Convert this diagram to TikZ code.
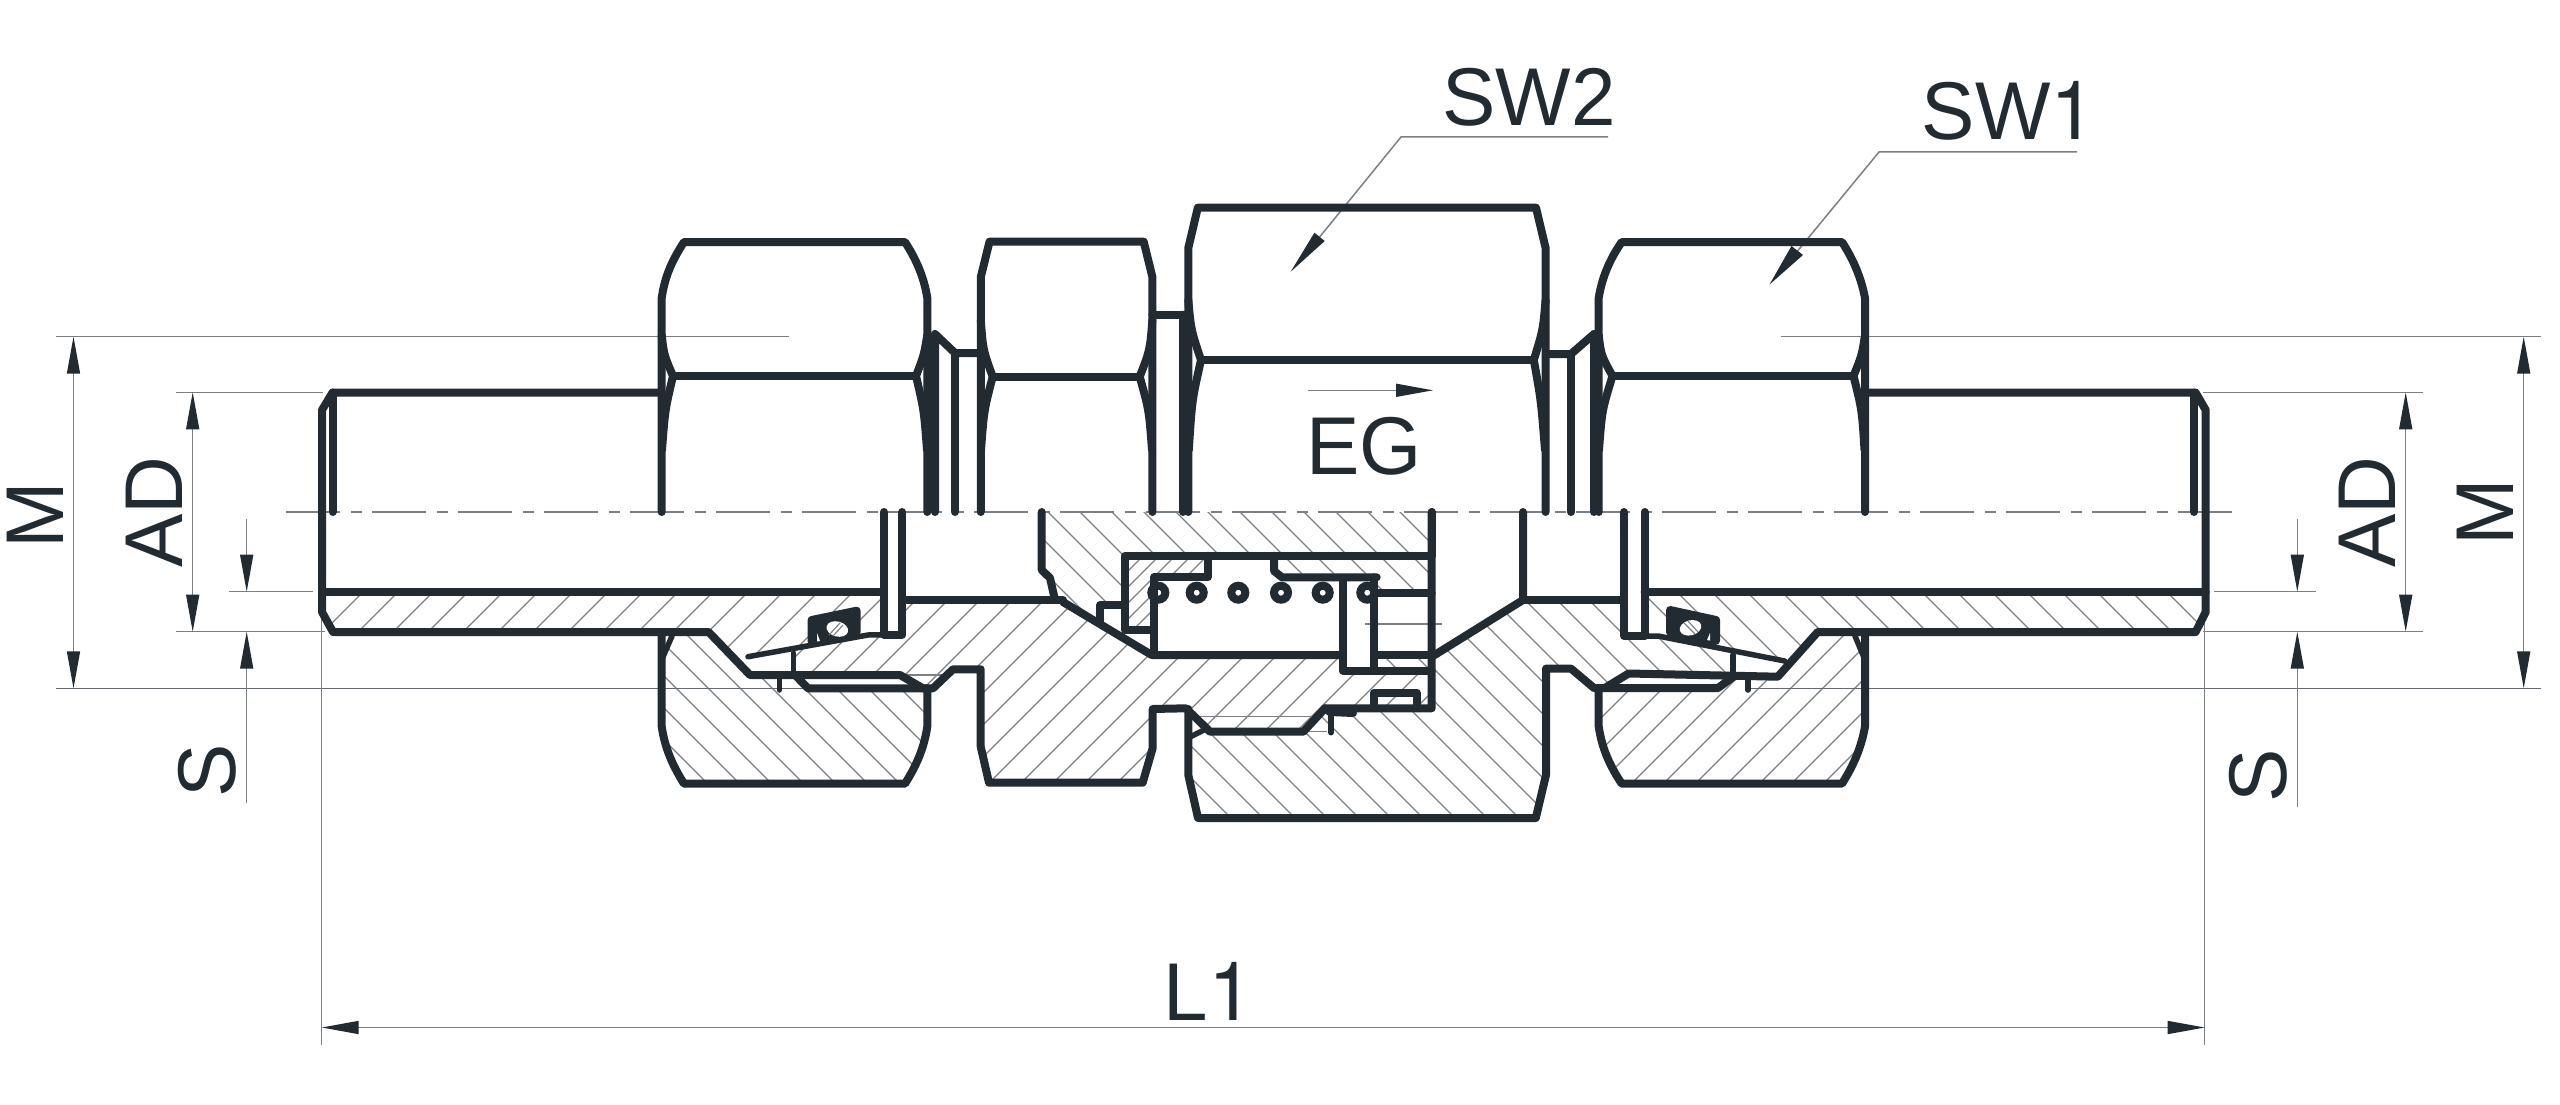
\documentclass[tikz,border=0pt]{standalone}
\usepackage{fontspec}
\setmainfont[FakeStretch=0.975]{Liberation Sans}
\newfontfamily\heros{TeX Gyre Heros}
\usetikzlibrary{arrows.meta}
\definecolor{ink}{HTML}{222A32}
\definecolor{thin}{HTML}{7C8084}
\newcommand{\hatchfw}[3]{% polygon, spacing, offset ( / )
 \begin{scope}\clip #1;
 \foreach \i in {0,...,130}{\draw[hatchline] ({#3+\i*#2},0) -- ({#3+\i*#2-1105},1105);}
 \end{scope}}
\newcommand{\hatchbk}[3]{% polygon, spacing, offset ( \ )
 \begin{scope}\clip #1;
 \foreach \i in {0,...,130}{\draw[hatchline] ({#3+\i*#2-1105},0) -- ({#3+\i*#2},1105);}
 \end{scope}}
\tikzset{
 hatchline/.style={draw=thin,line width=1.1pt},
 outl/.style={draw=ink,line width=8pt,line join=round,line cap=round},
 medl/.style={draw=ink,line width=5.5pt,line join=round,line cap=round},
 diml/.style={draw=thin,line width=1.5pt},
 darkl/.style={draw=ink!70!white,line width=1.3pt},
 tipped/.style={diml,-{Triangle[length=37pt,width=13pt,color=ink]}},
 bothtip/.style={diml,{Triangle[length=37pt,width=13pt,color=ink]}-{Triangle[length=37pt,width=13pt,color=ink]}},
 lbl/.style={text=ink,inner sep=0pt,font=\fontsize{82}{82}\selectfont},
}
\begin{document}
\begin{tikzpicture}[x=1pt,y=-1pt]
\useasboundingbox (0,0) rectangle (2560,1105);
\fill[white] (0,0) rectangle (2560,1105);
% ---------- hatching
\hatchfw{(322,592)--(883.6,592)--(883.6,634)--(869,634)--(744,659)--(708.6,632)--(333,632)--(322,612)--cycle}{35}{10}
\hatchbk{(661.7,636)--(708.6,634)--(748.7,676.7)--(793,677.5)--(806.8,688.6)--(927,688)--(927.3,726.5)--(918,755)--(905,783.7)--(684,783.7)--(668,755)--(661.7,726.5)--cycle}{32}{5}
\hatchfw{(903,600)--(1063,600)--(1151.7,656)--(1340,656)--(1342,671)--(1431,671)--(1431,708)--(1325,708)--(1303,731)--(1210,731)--(1186,708)--(1152.7,709)--(1152.7,748)--(1142.7,782.7)--(989,782.7)--(980.7,746.7)--(980.7,669)--(955,669)--(934,688)--(923,688)--(900.5,675)--(793,675)--(793,650)--(869,634.7)--(903,634.7)--cycle}{32}{12}
\hatchbk{(1041.7,512)--(1431,512)--(1431,556)--(1125,556)--(1125,605)--(1100,605)--(1100,622)--(1063,600)--(1050,576)--(1041.7,570)--cycle}{32}{9}
\hatchfw{(1129,560)--(1207,560)--(1207,578)--(1150,578)--(1150,628)--(1129,628)--cycle}{16}{3}
\hatchbk{(1274,556)--(1431,556)--(1431,593)--(1376,593)--(1376,577)--(1280,577)--(1274,570)--cycle}{32}{9}
\hatchbk{(1376,655)--(1431,655)--(1431,671)--(1376,671)--cycle}{32}{9}
\hatchbk{(1433,656)--(1523,600)--(1624,600)--(1624,636)--(1658,636)--(1733,655)--(1733,675)--(1628,675)--(1604.7,688)--(1594,688)--(1571,668.6)--(1546,668.6)--(1546,775)--(1535.8,818)--(1198,818)--(1188,775)--(1188,737)--(1210,731)--(1303,731)--(1325,708)--(1433,708)--cycle}{32}{14}
\hatchbk{(1647,592)--(2205.7,592)--(2205.7,612)--(2195.6,632)--(1817.7,632)--(1784.7,661)--(1658,634)--(1647,634)--cycle}{35}{20}
\hatchfw{(1598.7,690)--(1718,688)--(1733,677)--(1778,676.7)--(1817.7,634)--(1865,634)--(1865,726.5)--(1842,783.7)--(1621.7,783.7)--(1598.7,726.5)--cycle}{32}{15}
% ---------- thin lines
\draw[diml,dash pattern=on 54pt off 11pt on 11pt off 10pt] (286,512) -- (2236,512);
\draw[diml] (56,336.7) -- (789,336.7);
\draw[diml] (1781,336.7) -- (2541,336.7);
\draw[diml] (176,392.3) -- (323,392.3);
\draw[diml] (2203,392.3) -- (2423,392.3);
\draw[diml] (229,591.7) -- (313,591.7);
\draw[diml] (2214,591.7) -- (2315.5,591.7);
\draw[diml] (176,631.7) -- (325,631.7);
\draw[diml] (2203,631.7) -- (2423,631.7);
\draw[darkl] (56,688.3) -- (927,688.3);
\draw[darkl] (1750,688.3) -- (2541,688.3);
\draw[diml] (321.7,612) -- (321.7,1045);
\draw[diml] (2204.7,612) -- (2204.7,1045);
\draw[diml] (1365,624) -- (1441.7,624);
\draw[diml] (1200,716.7) -- (1316,716.7);
\draw[diml] (1303,731.7) -- (1327,731.7);
\draw[diml] (905,675) -- (950,675);
% dimension arrows
\draw[bothtip] (73.5,336.7) -- (73.5,688.3);
\draw[bothtip] (192.7,392.3) -- (192.7,631.7);
\draw[tipped] (246.7,519) -- (246.7,591.7);
\draw[tipped] (246.7,803) -- (246.7,631.7);
\draw[bothtip] (2523.7,336.7) -- (2523.7,688.3);
\draw[bothtip] (2405.7,392.3) -- (2405.7,631.7);
\draw[tipped] (2297.3,519) -- (2297.3,591.7);
\draw[tipped] (2297.3,807) -- (2297.3,631.7);
\draw[bothtip] (321.7,1027.5) -- (2204.7,1027.5);
\draw[tipped] (1307.7,390.3) -- (1433,390.3);
% leaders
\draw[diml] (1608,137) -- (1401,137) -- (1319.6,237);
\fill[ink] (1290.7,271.7) -- (1314.4,232.7) -- (1324.7,241) -- cycle;
\draw[diml] (2077,152) -- (1879,152) -- (1797.5,251);
\fill[ink] (1769.5,284.5) -- (1791.5,246) -- (1803,255) -- cycle;
% ---------- left stub and main lower contour
\draw[outl] (661.7,392.6) -- (332.5,392.6) -- (322,410) -- (322,612) -- (333,632) -- (708.6,632) -- (750,675) -- (900,675) -- (923,688.3) -- (933,688.3) -- (953,669.3) -- (980.7,669.3) -- (980.7,746.7) -- (989,782.7) -- (1142.7,782.7) -- (1152.7,748) -- (1152.7,709) -- (1186,708.3) -- (1210,731.7) -- (1303.3,731.7) -- (1325,708.3) -- (1431.7,708.3) -- (1431.7,512);
\draw[outl] (332.7,392.6) -- (332.7,512);
\draw[outl] (322,592) -- (883.6,592);
\draw[outl] (884,512) -- (884,634.7) -- (902.3,634.7) -- (902.3,512);
\draw[outl] (907,600) -- (1063,600);
% left ferrule
\draw[medl] (884,634.7) -- (868,635) -- (748,656.7);
\draw[medl] (793.3,653) -- (793.3,675);
\draw[medl] (779.3,675) -- (779.3,690);
\draw[outl] (795,675) -- (808,688.3) -- (927.3,688.3);
\draw[outl,fill=ink] (811.7,620) -- (856.7,610.7) -- (856.7,631.7) -- (811.7,641.7) -- cycle;
\fill[white,rotate around={-15:(837.3,629)}] (837.3,629) ellipse (11 and 7.5);
\fill[white] (817,633) -- (820,641) -- (817,641.5) -- cycle;
\draw[hatchline] (829,635) -- (840,623);
\draw[hatchline] (833,636) -- (843,625);
% left nut
\draw[outl] (661.7,512) -- (661.7,298) .. controls (665,275) and (673,259) .. (684,242) -- (905,242) .. controls (916,259) and (924,277) .. (927.3,298) -- (927.3,512);
\draw[outl] (673,376) -- (916,376);
\draw[outl] (661.7,335) .. controls (664,355) .. (673,376) .. controls (665,410) .. (662,450);
\draw[outl] (927.3,335) .. controls (924,355) .. (916,376) .. controls (924,410) .. (927,450);
\draw[outl] (661.7,634) -- (661.7,726.5) .. controls (665,749) and (673,766) .. (684,783.7) -- (905,783.7) .. controls (916,766) and (924,749) .. (927.3,726.5) -- (927.3,690);
\draw[medl] (661.7,660) -- (672,636);
% neck
\draw[outl] (935,512) -- (935,334) -- (955,353) -- (980,353);
\draw[outl] (955,353) -- (955,512);
% middle nut
\draw[outl] (980.8,512) -- (980.8,277) -- (989.5,241.7) -- (1143.7,241.7) -- (1152.4,277) -- (1152.4,512);
\draw[outl] (992.7,376.7) -- (1139.7,376.7);
\draw[outl] (980.8,320) .. controls (983,350) .. (992.7,376.7) .. controls (984,410) .. (981,450);
\draw[outl] (1152.4,320) .. controls (1150,350) .. (1139.7,376.7) .. controls (1149,410) .. (1152,450);
\draw[outl] (1152.4,314.7) -- (1188,314.7);
\draw[outl] (1183,314.7) -- (1183,512);
% big nut
\draw[outl] (1188.3,512) -- (1188.3,248) -- (1197.8,207.7) -- (1536,207.7) -- (1545.6,248) -- (1545.6,512);
\draw[outl] (1201,360) -- (1533.8,360);
\draw[outl] (1188.3,300) .. controls (1191,330) .. (1201,360) .. controls (1192,400) .. (1188.8,450);
\draw[outl] (1545.6,300) .. controls (1543,330) .. (1533.8,360) .. controls (1541,400) .. (1545,450);
\draw[outl] (1188.3,709) -- (1188.3,775) -- (1198,818) -- (1535.8,818) -- (1546,775) -- (1546,668.6) -- (1571,668.6) -- (1594,688) -- (1604.7,688) -- (1628.6,673.5) -- (1777.8,676.7) -- (1817.7,632) -- (2195.6,632) -- (2205.7,612) -- (2205.7,410) -- (2195.6,392.6) -- (1865,392.6);
% centre internals
\draw[outl] (1041.7,512) -- (1041.7,570) -- (1050,578) -- (1055,600);
\draw[outl] (1063,602) -- (1151.7,655) -- (1342.7,655);
\draw[outl] (1431.7,512) -- (1431.7,555.7) -- (1125,555.7) -- (1125,630) -- (1150,630);
\draw[outl] (1154,655) -- (1154,577.3) -- (1207.7,577.3) -- (1207.7,555.7);
\draw[outl] (1274,555.7) -- (1274,571) -- (1282,577.3) -- (1376.7,577.3);
\draw[outl] (1342.7,579) -- (1342.7,670.7) -- (1431.7,670.7);
\draw[outl] (1374,577.3) -- (1374,670.7);
\draw[outl] (1376.7,593.3) -- (1431.7,593.3);
\draw[outl] (1374,655) -- (1431.7,655);
\draw[outl] (1100,621) -- (1100,605) -- (1125,605);
\draw[outl] (1374,708) -- (1374,692.7) -- (1416.7,692.7) -- (1416.7,708);
\draw[outl] (1325,708.3) -- (1330,712) -- (1353,713);
\draw[medl] (1331,713) -- (1331,732.7);
\draw[medl] (1190,737) -- (1208,728);
\foreach \cx in {1158.3,1196.7,1238.3,1281,1322.7,1367.3}{\draw[draw=ink,line width=8pt] (\cx,592.7) circle (7);}
\draw[outl] (1433,656) -- (1523,600) -- (1523,512);
\draw[outl] (1523,600) -- (1621.7,600);
% right neck
\draw[outl] (1546,354) -- (1571,354) -- (1594,334) -- (1594,512);
\draw[outl] (1571,354) -- (1571,512);
% right nut
\draw[outl] (1598.7,512) -- (1598.7,298) .. controls (1602,277) and (1610,259) .. (1621.7,242) -- (1842,242) .. controls (1853,259) and (1861,277) .. (1865,298) -- (1865,512);
\draw[outl] (1612.5,376) -- (1853.5,376);
\draw[outl] (1598.7,335) .. controls (1601,355) .. (1612.5,376) .. controls (1602,410) .. (1599,450);
\draw[outl] (1865,335) .. controls (1862,355) .. (1853.5,376) .. controls (1862,410) .. (1864.5,450);
\draw[outl] (1598.7,690) -- (1598.7,726.5) .. controls (1602,749) and (1610,766) .. (1621.7,783.7) -- (1842,783.7) .. controls (1853,766) and (1861,749) .. (1865,726.5) -- (1865,634);
\draw[outl] (1604.7,688) -- (1718,688) -- (1733,677);
\draw[medl] (1865,660) -- (1855,636);
% right stub
\draw[outl] (2194,392.6) -- (2194,512);
\draw[outl] (1644.6,592) -- (2205.7,592);
\draw[outl] (1624,512) -- (1624,636) -- (1644.6,636) -- (1644.6,512);
\draw[medl] (1644.6,636) -- (1658,636) -- (1784.7,661);
\draw[medl] (1733,655) -- (1733,677.5);
\draw[medl] (1748,677) -- (1748,690);
\draw[outl,fill=ink] (1670,610) -- (1716,620) -- (1716,641) -- (1670,632) -- cycle;
\fill[white,rotate around={15:(1690.5,627.8)}] (1690.5,627.8) ellipse (11 and 7.5);
\fill[white] (1710,633) -- (1707,640) -- (1710,640.5) -- cycle;
\draw[hatchline] (1684,623) -- (1695,634);
\draw[hatchline] (1688,621) -- (1698,632);
% ---------- labels
\node[lbl] (sw2) at (1529,97) {SW2};
\node[lbl] (sw1) at (2009,111) {SW{\heros 1}};
\node[lbl] (eg) at (1364,446) {EG};
\node[lbl] (l1) at (1209,991) {L{\heros 1}};
\node[lbl,rotate=90] (mL) at (35.5,515) {M};
\node[lbl,rotate=90] (adL) at (154,512) {AD};
\node[lbl,rotate=90] (sL) at (207,771) {S};
\node[lbl,rotate=90] (mR) at (2485,512) {M};
\node[lbl,rotate=90] (adR) at (2367.5,512) {AD};
\node[lbl,rotate=90] (sR) at (2258,776) {S};
\end{tikzpicture}
\end{document}
